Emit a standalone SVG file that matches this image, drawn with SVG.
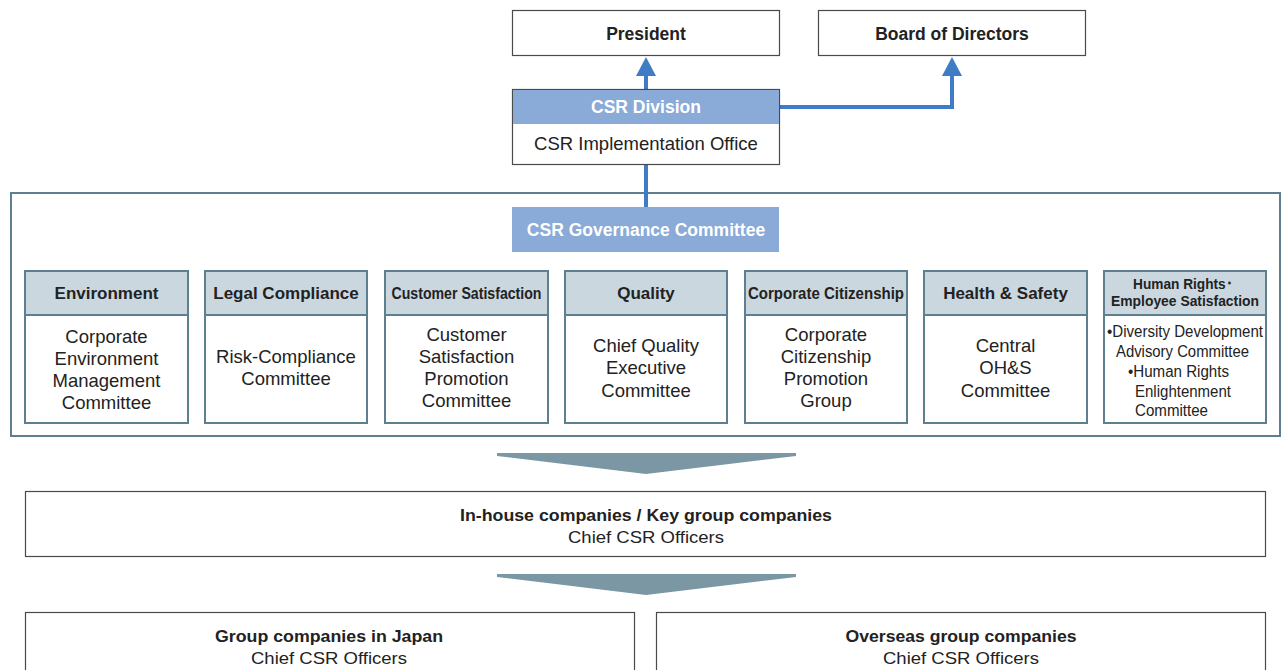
<svg xmlns="http://www.w3.org/2000/svg" width="1282" height="670" viewBox="0 0 1282 670">
<style>
.box{fill:#fff;stroke:#4a4a4a;stroke-width:1.2}
.frame{fill:#fff;stroke:#5e7f8e;stroke-width:2}
.cbox{fill:#fff;stroke:#5e7f8e;stroke-width:2}
.chead{fill:#cbd7df;stroke:#5e7f8e;stroke-width:2}
.blue{fill:#8aaad8}
.conn{fill:none;stroke:#3f7cc5;stroke-width:4}
.chev{fill:#7a97a3}
text{font-family:"Liberation Sans",Arial,sans-serif;fill:#222;text-anchor:middle}
.b{font-weight:bold}
.t17{font-size:17.5px}
.t18{font-size:18.5px}
.w{fill:#fff}
.n{font-size:16.5px}
</style>
<defs>
<marker id="ah" viewBox="0 0 10 10" refX="10" refY="5" markerWidth="5" markerHeight="5" orient="auto" markerUnits="strokeWidth">
<path d="M0,0 L10,5 L0,10 z" fill="#3f7cc5"/>
</marker>
</defs>

<g id="frame"><rect class="frame" x="11" y="193" width="1269" height="243"/></g>

<g id="connectors">
<path class="conn" d="M646,89 V76"/>
<polygon points="646,57 636,76 656,76" fill="#3f7cc5"/>
<path class="conn" d="M779,107 H952 V76"/>
<polygon points="952,57 942,76 962,76" fill="#3f7cc5"/>
<path class="conn" d="M646,164 V207"/>
<polygon class="chev" points="497,453 796,453 796,456 646,474 497,456"/>
<polygon class="chev" points="497,574 796,574 796,577 646,595 497,577"/>
</g>

<g id="president"><rect class="box" x="512.5" y="10.5" width="267" height="45"/><text class="b t17" x="646" y="40">President</text></g>
<g id="board"><rect class="box" x="818.5" y="10.5" width="267" height="45"/><text class="b t17" x="952" y="40">Board of Directors</text></g>

<g id="csr-division">
<rect class="box" x="512.5" y="89.5" width="267" height="75"/>
<rect class="blue" x="513" y="90" width="266" height="34"/>
<text class="b t17 w" x="646" y="113">CSR Division</text>
<text class="t18" x="646" y="150">CSR Implementation Office</text>
</g>

<g id="governance">
<rect class="blue" x="512" y="207" width="267" height="45"/>
<text class="b t17 w" x="646" y="236">CSR Governance Committee</text>
</g>

<g id="c-environment">
<rect class="cbox" x="25" y="271" width="163" height="152"/><rect class="chead" x="25" y="271" width="163" height="44"/>
<text class="b" font-size="17" x="106.5" y="299">Environment</text>
<text class="t18" x="106.5" y="343">Corporate</text>
<text class="t18" x="106.5" y="365">Environment</text>
<text class="t18" x="106.5" y="387">Management</text>
<text class="t18" x="106.5" y="409">Committee</text>
</g>
<g id="c-legal">
<rect class="cbox" x="205" y="271" width="162" height="152"/><rect class="chead" x="205" y="271" width="162" height="44"/>
<text class="b" font-size="17" x="286" y="299">Legal Compliance</text>
<text class="t18" x="286" y="363">Risk-Compliance</text>
<text class="t18" x="286" y="385">Committee</text>
</g>
<g id="c-customer">
<rect class="cbox" x="385" y="271" width="163" height="152"/><rect class="chead" x="385" y="271" width="163" height="44"/>
<text class="b" font-size="16.5" x="466.5" y="299" textLength="150" lengthAdjust="spacingAndGlyphs">Customer Satisfaction</text>
<text class="t18" x="466.5" y="341">Customer</text>
<text class="t18" x="466.5" y="363">Satisfaction</text>
<text class="t18" x="466.5" y="385">Promotion</text>
<text class="t18" x="466.5" y="407">Committee</text>
</g>
<g id="c-quality">
<rect class="cbox" x="565" y="271" width="162" height="152"/><rect class="chead" x="565" y="271" width="162" height="44"/>
<text class="b" font-size="17" x="646" y="299">Quality</text>
<text class="t18" x="646" y="352">Chief Quality</text>
<text class="t18" x="646" y="374">Executive</text>
<text class="t18" x="646" y="397">Committee</text>
</g>
<g id="c-citizenship">
<rect class="cbox" x="745" y="271" width="162" height="152"/><rect class="chead" x="745" y="271" width="162" height="44"/>
<text class="b" font-size="16.5" x="826" y="299" textLength="156" lengthAdjust="spacingAndGlyphs">Corporate Citizenship</text>
<text class="t18" x="826" y="341">Corporate</text>
<text class="t18" x="826" y="363">Citizenship</text>
<text class="t18" x="826" y="385">Promotion</text>
<text class="t18" x="826" y="407">Group</text>
</g>
<g id="c-health">
<rect class="cbox" x="924" y="271" width="163" height="152"/><rect class="chead" x="924" y="271" width="163" height="44"/>
<text class="b" font-size="17" x="1005.5" y="299">Health &amp; Safety</text>
<text class="t18" x="1005.5" y="352">Central</text>
<text class="t18" x="1005.5" y="374">OH&amp;S</text>
<text class="t18" x="1005.5" y="397">Committee</text>
</g>
<g id="c-human">
<rect class="cbox" x="1104" y="271" width="162" height="152"/><rect class="chead" x="1104" y="271" width="162" height="44"/>
<text class="b" font-size="15" x="1183" y="289" textLength="100" lengthAdjust="spacingAndGlyphs">Human Rights･</text>
<text class="b" font-size="15" x="1185" y="306" textLength="148" lengthAdjust="spacingAndGlyphs">Employee Satisfaction</text>
<text font-size="16" x="1107" y="337" style="text-anchor:start" textLength="156" lengthAdjust="spacingAndGlyphs">•Diversity Development</text>
<text font-size="16" x="1116" y="357" style="text-anchor:start" textLength="133" lengthAdjust="spacingAndGlyphs">Advisory Committee</text>
<text font-size="16" x="1128" y="377" style="text-anchor:start" textLength="101" lengthAdjust="spacingAndGlyphs">•Human Rights</text>
<text font-size="16" x="1135" y="397" style="text-anchor:start" textLength="96" lengthAdjust="spacingAndGlyphs">Enlightenment</text>
<text font-size="16" x="1135" y="416" style="text-anchor:start" textLength="73" lengthAdjust="spacingAndGlyphs">Committee</text>
</g>

<g id="inhouse">
<rect class="box" x="25.5" y="491.5" width="1240" height="65"/>
<text class="b" font-size="16.5" x="646" y="521" textLength="372" lengthAdjust="spacingAndGlyphs">In-house companies / Key group companies</text>
<text font-size="16.5" x="646" y="543" textLength="156" lengthAdjust="spacingAndGlyphs">Chief CSR Officers</text>
</g>
<g id="japan">
<rect class="box" x="25.5" y="612.5" width="609" height="70"/>
<text class="b" font-size="16.5" x="329" y="642" textLength="228" lengthAdjust="spacingAndGlyphs">Group companies in Japan</text>
<text font-size="16.5" x="329" y="664" textLength="156" lengthAdjust="spacingAndGlyphs">Chief CSR Officers</text>
</g>
<g id="overseas">
<rect class="box" x="656.5" y="612.5" width="609" height="70"/>
<text class="b" font-size="16.5" x="961" y="642" textLength="231" lengthAdjust="spacingAndGlyphs">Overseas group companies</text>
<text font-size="16.5" x="961" y="664" textLength="156" lengthAdjust="spacingAndGlyphs">Chief CSR Officers</text>
</g>
</svg>
